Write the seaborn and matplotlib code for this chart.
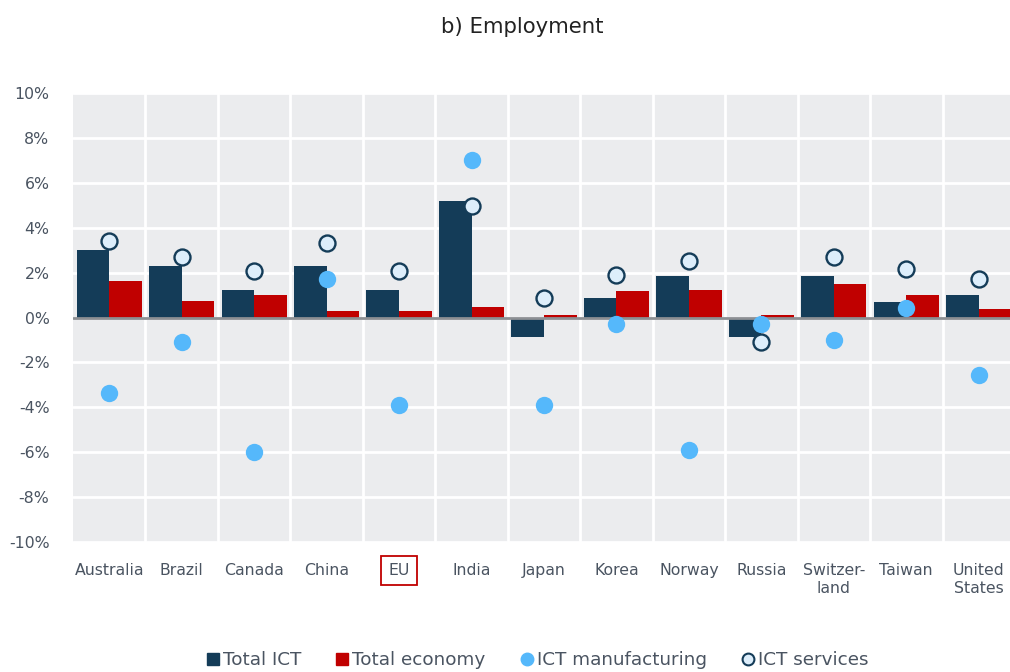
import numpy as np
import pandas as pd
import matplotlib
matplotlib.use("Agg")
import matplotlib.pyplot as plt
from matplotlib.lines import Line2D
from matplotlib.ticker import FixedLocator, FuncFormatter
import seaborn as sns

# Employment growth by country (%)
countries = ["Australia", "Brazil", "Canada", "China", "EU", "India", "Japan",
             "Korea", "Norway", "Russia", "Switzer-\nland", "Taiwan", "United\nStates"]
total_ict = [3.0, 2.3, 1.23, 2.3, 1.23, 5.17, -0.86, 0.88, 1.85, -0.86, 1.85, 0.71, 0.98]
total_economy = [1.62, 0.73, 1.0, 0.28, 0.28, 0.46, 0.1, 1.16, 1.23, 0.1, 1.51, 0.98, 0.36]
ict_manufacturing = [-3.35, -1.08, -5.98, 1.73, -3.88, 7.0, -3.88, -0.28, -5.9, -0.28, -0.99, 0.42, -2.58]
ict_services = [3.4, 2.7, 2.09, 3.32, 2.09, 4.96, 0.86, 1.91, 2.52, -1.08, 2.7, 2.16, 1.72]
y_ticks = [-10, -8, -6, -4, -2, 0, 2, 4, 6, 8, 10]

NAVY = "#143c58"
RED = "#c00000"
BLUE = "#55b8fb"
PALE = "#ddeefb"
TEXT = "#4a5461"
BG = "#ebecee"

bars = pd.DataFrame({"country": countries,
                     "Total ICT": total_ict,
                     "Total economy": total_economy}).melt(
    id_vars="country", var_name="series", value_name="value")
points = pd.DataFrame({"country": countries,
                       "manufacturing": ict_manufacturing,
                       "services": ict_services})

sns.set_style("white")
plt.rcParams["font.family"] = ["DejaVu Sans"]

fig = plt.figure(figsize=(10.10, 6.72), dpi=100)
ax = fig.add_axes([73 / 1010, 1 - 542 / 672, 942 / 1010, 449 / 672])
ax.set_facecolor(BG)

sns.barplot(data=bars, x="country", y="value", hue="series",
            palette=[NAVY, RED], width=0.9, saturation=1, legend=False,
            errorbar=None, linewidth=0, ax=ax, zorder=2)
ax.axhline(0, color="#8c8f93", lw=2, zorder=2.5)
sns.stripplot(data=points, x="country", y="manufacturing", color=BLUE,
              size=12.5, jitter=False, linewidth=0, ax=ax, zorder=3)
sns.stripplot(data=points, x="country", y="services", color=PALE,
              size=11.5, jitter=False, linewidth=1.7, edgecolor=NAVY,
              ax=ax, zorder=3)

ax.set_xlim(-0.5, len(countries) - 0.5)
ax.set_ylim(-10, 10)
ax.yaxis.set_major_locator(FixedLocator(y_ticks))
ax.yaxis.set_major_formatter(FuncFormatter(lambda v, _: f"{v:.0f}%"))
ax.xaxis.set_minor_locator(FixedLocator(np.arange(0.5, len(countries) - 0.5, 1)))
ax.set_axisbelow(True)
ax.grid(axis="y", which="major", color="white", lw=2)
ax.grid(axis="x", which="minor", color="white", lw=2)
ax.grid(axis="x", which="major", visible=False)
for s in ax.spines.values():
    s.set_visible(False)
ax.set_xlabel("")
ax.set_ylabel("")
ax.tick_params(axis="both", which="both", length=0)
ax.tick_params(axis="x", pad=15, labelsize=11.3, labelcolor=TEXT)
ax.tick_params(axis="y", pad=17, labelsize=11.3, labelcolor=TEXT)
for lab in ax.get_xticklabels():
    lab.set_linespacing(1.25)
    if lab.get_text() == "EU":
        lab.set_bbox(dict(facecolor="none", edgecolor=RED, lw=1.3,
                          boxstyle="square,pad=0.45"))

fig.text(522 / 1010, 1 - 27 / 672, "b) Employment", ha="center", va="center",
         fontsize=15.3, color="#222222")

handles = [
    Line2D([], [], ls="none", marker="s", markersize=8, color=NAVY),
    Line2D([], [], ls="none", marker="s", markersize=8, color=RED),
    Line2D([], [], ls="none", marker="o", markersize=9, color=BLUE),
    Line2D([], [], ls="none", marker="o", markersize=8.5, markerfacecolor=PALE,
           markeredgecolor=NAVY, markeredgewidth=1.5),
]
labels = ["Total ICT", "Total economy", "ICT manufacturing", "ICT services"]
fig.legend(handles, labels, loc="center", bbox_to_anchor=(538 / 1010, 1 - 660 / 672),
           ncol=4, frameon=False, fontsize=13.2, labelcolor=TEXT,
           handlelength=0.6, handletextpad=0.25, columnspacing=1.95,
           borderpad=0)

fig.savefig("out.png", dpi=100)
